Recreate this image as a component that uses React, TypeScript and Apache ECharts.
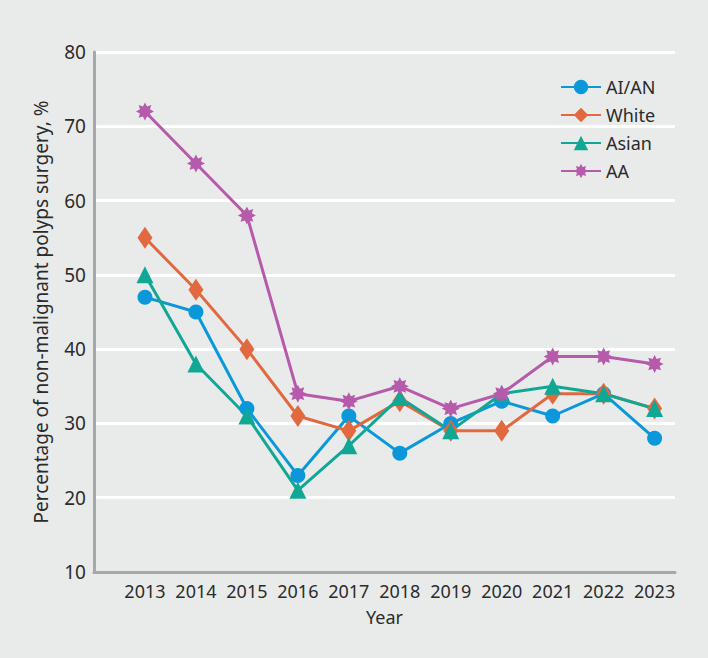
import React, { useEffect, useRef } from "react";
import * as echarts from "echarts";

const years = [2013, 2014, 2015, 2016, 2017, 2018, 2019, 2020, 2021, 2022, 2023];
const aian = [47, 45, 32, 23, 31, 26, 30, 33, 31, 34, 28];
const white = [55, 48, 40, 31, 29, 33, 29, 29, 34, 34, 32];
const asian = [50, 38, 31, 21, 27, 33.5, 29, 34, 35, 34, 32];
const aa = [72, 65, 58, 34, 33, 35, 32, 34, 39, 39, 38];

const FONT = "'Noto Sans', 'Open Sans', sans-serif";

// 8-pointed star outline used as the AA marker
function starPath(points: number, inner: number): string {
  const pts: string[] = [];
  for (let i = 0; i < points * 2; i++) {
    const r = i % 2 === 0 ? 1 : inner;
    const a = (Math.PI * i) / points - Math.PI / 2;
    pts.push(`${(50 + 50 * r * Math.cos(a)).toFixed(2)} ${(50 + 50 * r * Math.sin(a)).toFixed(2)}`);
  }
  return "path://M" + pts.join(" L") + " Z";
}

export default function App() {
  const ref = useRef<HTMLDivElement>(null);

  useEffect(() => {
    document.body.style.margin = "0";
    const chart = echarts.init(ref.current!, null, { renderer: "svg" });
    const mk = (name: string, vals: number[], color: string, symbol: string, size: number | number[]) => ({
      name,
      type: "line",
      data: years.map((y, i) => [y, vals[i]]),
      symbol,
      symbolSize: size,
      lineStyle: { color, width: 3 },
      itemStyle: { color },
      emphasis: { disabled: true },
    });
    chart.setOption({
      animation: false,
      backgroundColor: "#e9ebea",
      grid: { left: 94, right: 33, top: 52, bottom: 86 },
      legend: {
        orient: "vertical",
        left: 555,
        top: 73,
        itemWidth: 40,
        itemHeight: 18,
        itemGap: 10,
        textStyle: { fontFamily: FONT, fontSize: 18, color: "#2b2b2b" },
        data: ["AI/AN", "White", "Asian", "AA"],
      },
      xAxis: {
        type: "value",
        min: 2012,
        max: 2023.4,
        interval: 1,
        name: "Year",
        nameLocation: "middle",
        nameGap: 36,
        nameTextStyle: { fontFamily: FONT, fontSize: 18, color: "#2b2b2b" },
        axisLine: { show: true, lineStyle: { color: "#a7a8aa", width: 3 } },
        axisTick: { show: false },
        splitLine: { show: false },
        axisLabel: {
          fontFamily: FONT,
          fontSize: 18,
          color: "#2b2b2b",
          margin: 10,
          showMinLabel: false,
          showMaxLabel: false,
          formatter: (v: number) => (Number.isInteger(v) && v >= 2013 ? String(v) : ""),
        },
      },
      yAxis: {
        type: "value",
        min: 10,
        max: 80,
        interval: 10,
        name: "Percentage of non-malignant polyps surgery, %",
        nameLocation: "middle",
        nameGap: 44,
        nameTextStyle: { fontFamily: FONT, fontSize: 19, color: "#2b2b2b" },
        axisLine: { show: true, lineStyle: { color: "#a7a8aa", width: 3 } },
        axisTick: { show: false },
        splitLine: { show: true, lineStyle: { color: "#ffffff", width: 3 } },
        axisLabel: { fontFamily: FONT, fontSize: 19, color: "#2b2b2b", margin: 8 },
      },
      series: [
        mk("AI/AN", aian, "#0a98db", "circle", 15),
        mk("White", white, "#e2693f", "diamond", [15, 22]),
        mk("Asian", asian, "#11a795", "triangle", 17),
        mk("AA", aa, "#b65aab", starPath(8, 0.6), 18),
      ],
    });
    return () => chart.dispose();
  }, []);

  return <div ref={ref} style={{ width: 708, height: 658 }} />;
}
